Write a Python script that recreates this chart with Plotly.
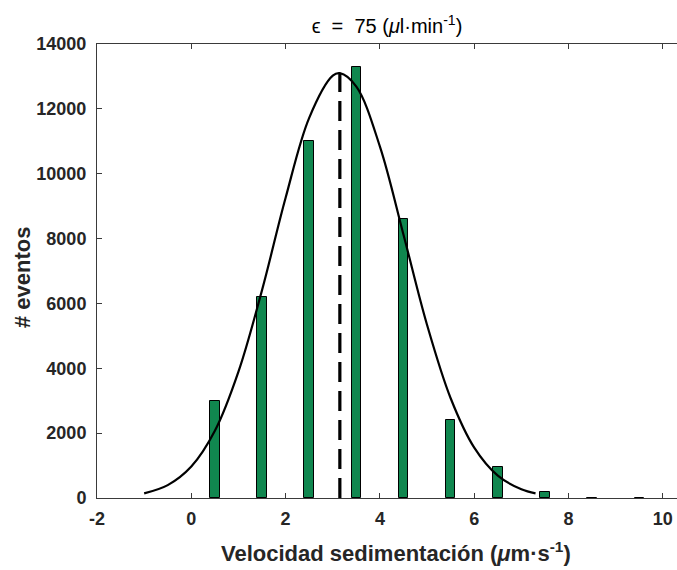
import plotly.graph_objects as go

# Histogram bins (bar centres) and counts
bin_centers = [0.5, 1.5, 2.5, 3.5, 4.5, 5.5, 6.5, 7.5, 8.5, 9.5]
counts = [3000, 6200, 11000, 13300, 8600, 2400, 950, 180, 8, 4]

# Fitted curve, points
fit_x = [-1.0, -0.5, 0.0, 0.5, 1.0, 1.5, 2.0, 2.5, 3.0, 3.15, 3.5, 4.0, 4.5, 5.0, 5.5, 6.0, 6.5, 7.0, 7.3]
fit_y = [143, 397, 970, 2072, 3896, 6410, 9258, 11724, 13023, 13100, 12686, 10837, 8120, 5336, 3076, 1553, 689, 268, 143]

# Mean line
mean_x = [3.15, 3.15]
mean_y = [0, 13100]

x_ticks = [-2, 0, 2, 4, 6, 8, 10]
x_labels = ["-2", "0", "2", "4", "6", "8", "10"]
y_ticks = [0, 2000, 4000, 6000, 8000, 10000, 12000, 14000]
y_labels = ["0", "2000", "4000", "6000", "8000", "10000", "12000", "14000"]

FONT = "Liberation Sans, Arial, sans-serif"
AX = "#3a3a3a"
TXT = "#262626"

fig = go.Figure()
fig.add_trace(go.Bar(x=bin_centers, y=counts, width=0.2,
                     marker=dict(color="#10874F", line=dict(color="#000000", width=1)),
                     showlegend=False))
fig.add_trace(go.Scatter(x=fit_x, y=fit_y, mode="lines", line=dict(color="black", width=2.2, shape="spline"),
                         showlegend=False))
fig.add_trace(go.Scatter(x=mean_x, y=mean_y, mode="lines", line=dict(color="black", width=3.2, dash="20px,9px"),
                         showlegend=False))

fig.update_layout(
    width=677, height=570,
    margin=dict(l=97, r=0, t=44, b=72),
    paper_bgcolor="white", plot_bgcolor="white",
    font=dict(family=FONT, color=TXT),
    bargap=0,
    title=dict(text="ϵ  =  75 (<i>μ</i>l·min<sup>-1</sup>)", x=0.5, xref="paper", xanchor="center",
               y=1 - 26 / 570, yref="container", yanchor="middle",
               font=dict(size=20, family=FONT, color="#000000")),
    xaxis=dict(range=[-2, 10.3], tickvals=x_ticks, ticktext=[f"<b>{t}</b>" for t in x_labels],
               ticks="inside", ticklen=5, tickcolor=AX,
               showline=True, linecolor=AX, linewidth=1, mirror="ticks", showgrid=False, zeroline=False,
               tickfont=dict(size=18, family=FONT, color=TXT), ticklabelstandoff=4),
    yaxis=dict(range=[0, 14000], tickvals=y_ticks, ticktext=[f"<b>{t}</b>" for t in y_labels],
               ticks="inside", ticklen=5, tickcolor=AX,
               showline=True, linecolor=AX, linewidth=1, mirror=False, showgrid=False, zeroline=False,
               tickfont=dict(size=18, family=FONT, color=TXT), ticklabelstandoff=6),
    annotations=[
        dict(text="<b>Velocidad sedimentación (<i>μ</i>m·s<sup>-1</sup>)</b>", showarrow=False,
             font=dict(size=22, family=FONT, color=TXT)),
        dict(text="<b># eventos</b>", textangle=-90, showarrow=False,
             font=dict(size=22, family=FONT, color=TXT)),
    ],
)

# place annotations in pixel terms relative to plot area
pw, ph = 677 - 97, 570 - 44 - 72
fig.layout.annotations[0].update(x=(396 - 97) / pw, y=(498 - 552) / ph, xref="paper", yref="paper",
                                 xanchor="center", yanchor="middle")
fig.layout.annotations[1].update(x=(22 - 97) / pw, y=(498 - 277) / ph, xref="paper", yref="paper",
                                 xanchor="center", yanchor="middle")

fig.write_html("out.html")
